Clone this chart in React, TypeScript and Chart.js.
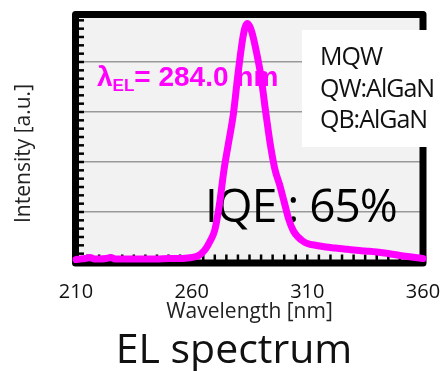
import React, { useEffect, useRef } from "react";
import { Chart, registerables } from "chart.js";

Chart.register(...registerables);

// ---- data ----
const wavelengths = [
  210, 212, 214, 216, 218, 220, 223, 225, 227, 230, 235, 240, 245, 250, 255,
  258, 260, 262, 264, 266, 268, 270, 272, 274, 276, 278, 280, 282, 283, 284,
  285, 286, 288, 290, 292, 294, 296, 298, 300, 302, 304, 306, 308, 310, 314,
  318, 322, 326, 330, 335, 340, 345, 350, 355, 360,
];
const intensity = [
  0.05, 0.06, 0.07, 0.09, 0.06, 0.06, 0.07, 0.09, 0.06, 0.06, 0.06, 0.06, 0.06,
  0.07, 0.07, 0.08, 0.09, 0.11, 0.16, 0.26, 0.42, 0.64, 1.15, 1.85, 2.4, 2.95,
  3.75, 4.45, 4.68, 4.77, 4.72, 4.6, 4.2, 3.7, 3.0, 2.35, 1.85, 1.55, 1.2, 0.85,
  0.62, 0.5, 0.42, 0.37, 0.33, 0.3, 0.28, 0.26, 0.24, 0.22, 0.2, 0.17, 0.13,
  0.1, 0.07,
];
const xMin = 210;
const xMax = 360;
const xStep = 50;
const xMinorStep = 5;
const yMin = 0;
const yMax = 4.95;
const yMinorStep = 1 / 6;

const xTitle = "Wavelength [nm]";
const yTitle = "Intensity [a.u.]";
const chartTitle = "EL spectrum";
const peakSymbol = "λ";
const peakSub = "EL";
const peakText = "= 284.0 nm";
const iqeText = "IQE : 65%";
const legendLines = ["MQW", "QW:AlGaN", "QB:AlGaN"];

const MAGENTA = "#ff00ff";
const FONT = "'Open Sans', 'Noto Sans', sans-serif";

const decor = {
  id: "decor",
  beforeDraw(chart: any) {
    const { ctx, chartArea: a } = chart;
    ctx.save();
    ctx.fillStyle = "#ffffff";
    ctx.fillRect(0, 0, chart.width, chart.height);
    ctx.fillStyle = "#f2f2f2";
    ctx.fillRect(a.left, a.top, a.right - a.left, a.bottom - a.top);
    ctx.restore();
  },
  beforeDatasetsDraw(chart: any) {
    const { ctx, chartArea: a, scales } = chart;
    const x = scales.x;
    const y = scales.y;
    ctx.save();
    // frame
    ctx.strokeStyle = "#000";
    ctx.lineWidth = 7;
    ctx.lineJoin = "round";
    ctx.strokeRect(a.left - 0.5, a.top, a.right - a.left + 0.5, a.bottom - a.top + 1);
    // minor ticks on y
    ctx.lineWidth = 2.5;
    ctx.lineCap = "butt";
    for (let k = 1; k * yMinorStep < yMax - 0.05; k++) {
      const py = y.getPixelForValue(k * yMinorStep);
      ctx.beginPath();
      ctx.moveTo(a.left, py);
      ctx.lineTo(a.left + 8, py);
      ctx.stroke();
    }
    // minor ticks on x
    for (let w = xMin + xMinorStep; w < xMax; w += xMinorStep) {
      const px = x.getPixelForValue(w);
      ctx.beginPath();
      ctx.moveTo(px, a.bottom);
      ctx.lineTo(px, a.bottom - 7.5);
      ctx.stroke();
    }
    // lambda label
    ctx.fillStyle = MAGENTA;
    ctx.textBaseline = "alphabetic";
    ctx.textAlign = "left";
    const lx = a.left + 21;
    const ly = a.top + 71.5;
    ctx.font = "bold 28px 'Liberation Sans', Arial, sans-serif";
    ctx.fillText(peakSymbol, lx, ly);
    const wl = ctx.measureText(peakSymbol).width;
    ctx.font = "bold 17px 'Liberation Sans', Arial, sans-serif";
    ctx.fillText(peakSub, lx + wl, ly + 5);
    const ws = ctx.measureText(peakSub).width;
    ctx.font = "bold 28px 'Liberation Sans', Arial, sans-serif";
    ctx.fillText(peakText, lx + wl + ws, ly);
    // IQE
    ctx.fillStyle = "#000";
    ctx.font = `46px ${FONT}`;
    try { (ctx as any).letterSpacing = "-1px"; } catch (e) {}
    ctx.fillText(iqeText, 205, a.top + 207.2);
    try { (ctx as any).letterSpacing = "0px"; } catch (e) {}
    ctx.restore();
  },
  afterDatasetsDraw(chart: any) {
    const { ctx } = chart;
    ctx.save();
    // legend box
    ctx.fillStyle = "#ffffff";
    ctx.fillRect(302, 30, chart.width - 302, 117);
    ctx.fillStyle = "#111";
    ctx.textAlign = "left";
    ctx.textBaseline = "alphabetic";
    ctx.font = `25px ${FONT}`;
    try { (ctx as any).letterSpacing = "-1px"; } catch (e) {}
    legendLines.forEach((t, i) => ctx.fillText(t, 320, 65 + i * 31.7));
    try { (ctx as any).letterSpacing = "0px"; } catch (e) {}
    // y title
    ctx.save();
    ctx.translate(30, 153.5);
    ctx.rotate(-Math.PI / 2);
    ctx.textAlign = "center";
    ctx.font = `21px ${FONT}`;
    ctx.fillStyle = "#222";
    ctx.fillText(yTitle, 0, 0);
    ctx.restore();
    // bottom title
    ctx.textAlign = "center";
    ctx.font = `41px ${FONT}`;
    ctx.fillStyle = "#111";
    ctx.fillText(chartTitle, 234, 363.3);
    ctx.restore();
  },
};

export default function App() {
  const ref = useRef<HTMLCanvasElement | null>(null);
  useEffect(() => {
    if (!ref.current) return;
    const chart = new Chart(ref.current, {
      type: "line",
      data: {
        datasets: [
          {
            data: wavelengths.map((w, i) => ({ x: w, y: intensity[i] })),
            borderColor: MAGENTA,
            borderWidth: 7,
            pointRadius: 0,
            borderCapStyle: "round",
            borderJoinStyle: "round",
            cubicInterpolationMode: "monotone",
            fill: false,
            clip: 10,
          } as any,
        ],
      },
      options: {
        responsive: false,
        animation: false,
        layout: { padding: { left: 0, right: 19, top: 14.5, bottom: 41 } },
        plugins: { legend: { display: false }, tooltip: { enabled: false }, title: { display: false } },
        scales: {
          x: {
            type: "linear",
            min: xMin,
            max: xMax,
            grid: { display: false, drawTicks: false },
            border: { display: false },
            ticks: {
              stepSize: xStep,
              autoSkip: false,
              maxRotation: 0,
              padding: 18,
              color: "#111",
              font: { family: FONT, size: 20 },
            },
            title: {
              display: true,
              text: xTitle,
              color: "#222",
              font: { family: FONT, size: 21 },
              padding: { top: 0, bottom: 5 },
            },
            afterFit(scale: any) {
              scale.height = 68;
              scale.paddingLeft = 0;
              scale.paddingRight = 0;
            },
          },
          y: {
            type: "linear",
            min: yMin,
            max: yMax,
            grid: { color: "#999", lineWidth: 1.5, drawTicks: false },
            border: { display: false },
            ticks: { display: false, stepSize: 1 },
            afterFit(scale: any) {
              scale.width = 76;
              scale.paddingTop = 0;
              scale.paddingBottom = 0;
            },
          },
        },
      } as any,
      plugins: [decor],
    });
    return () => chart.destroy();
  }, []);
  return (
    <div style={{ position: "fixed", left: 0, top: 0, width: 442, height: 371 }}>
      <canvas ref={ref} width={442} height={371} />
    </div>
  );
}
